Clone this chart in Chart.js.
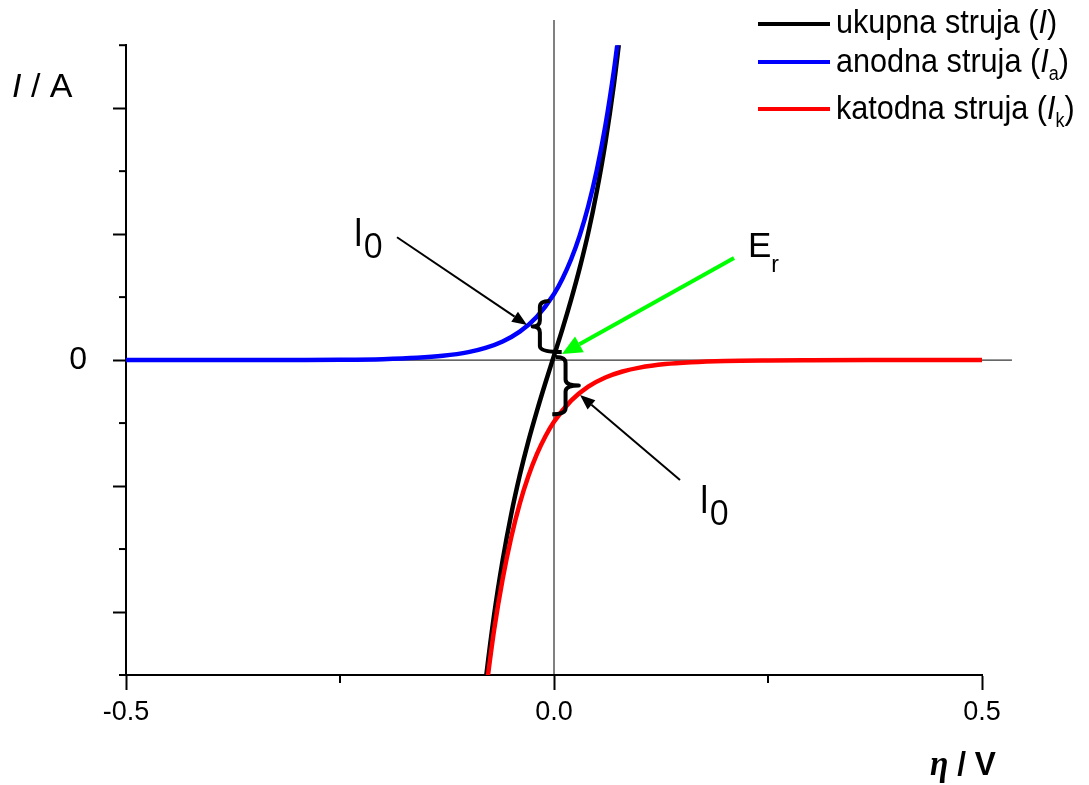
<!DOCTYPE html>
<html>
<head>
<meta charset="utf-8">
<script src="https://cdn.jsdelivr.net/npm/chart.js@4.4.1/dist/chart.umd.min.js"></script>
<style>
  html, body { margin: 0; padding: 0; background: #fff; }
  canvas { display: block; }
</style>
</head>
<body>
<canvas id="bv" width="1089" height="785"></canvas>
<script>
// overpotential (V) and current (arbitrary units)
const etaAnodic = [-0.5, -0.4, -0.3, -0.25, -0.2, -0.16, -0.13, -0.1, -0.08, -0.06, -0.04, -0.02, 0, 0.01, 0.02, 0.03, 0.04, 0.05, 0.06, 0.07, 0.076];
const iAnodic = [0, 0, 0.002, 0.005, 0.015, 0.036, 0.068, 0.127, 0.194, 0.296, 0.452, 0.689, 1.05, 1.297, 1.601, 1.977, 2.442, 3.016, 3.724, 4.599, 5.22];

const etaCathodic = [-0.08, -0.07, -0.06, -0.05, -0.04, -0.03, -0.02, -0.01, 0, 0.02, 0.04, 0.06, 0.08, 0.1, 0.13, 0.16, 0.2, 0.25, 0.3, 0.4, 0.5];
const iCathodic = [-5.3, -4.29, -3.476, -2.815, -2.279, -1.845, -1.494, -1.21, -0.98, -0.643, -0.421, -0.276, -0.181, -0.119, -0.063, -0.034, -0.014, -0.005, -0.002, 0, 0];

const etaTotal = [-0.085, -0.08, -0.07, -0.06, -0.05, -0.04, -0.03, -0.02, -0.01, 0, 0.01, 0.02, 0.03, 0.04, 0.05, 0.06, 0.07, 0.08];
const iTotal = [-5.72, -5.11, -4.05, -3.18, -2.45, -1.83, -1.29, -0.81, -0.36, 0.07, 0.5, 0.96, 1.46, 2.02, 2.68, 3.45, 4.38, 5.5];

const xTicks = [-0.5, 0, 0.5];
const yTicks = [0];

const SANS = "'Liberation Sans', Arial, sans-serif";
const NARROW = "'Liberation Sans Narrow', 'Arial Narrow', 'Open Sans', sans-serif";

function pts(xs, ys) {
    return xs.map((x, i) => ({x: x, y: ys[i]}));
}

function curve(label, color, xs, ys) {
    return {
        label: label,
        data: pts(xs, ys),
        borderColor: color,
        borderWidth: 4.5,
        pointRadius: 0,
        fill: false,
        cubicInterpolationMode: 'monotone'
    };
}

// write a row of text pieces, each with its own font and vertical shift;
// sq squeezes the row horizontally
function runs(ctx, x, y, parts, sq) {
    sq = sq || 1;
    parts.forEach(p => {
        ctx.font = p.font;
        ctx.save();
        ctx.translate(x, y + (p.dy || 0));
        ctx.scale(sq, 1);
        ctx.fillText(p.text, 0, 0);
        ctx.restore();
        x += ctx.measureText(p.text).width * sq;
    });
}

function arrow(ctx, x1, y1, x2, y2, color, lw, hl, hw) {
    const a = Math.atan2(y2 - y1, x2 - x1);
    const bx = x2 - hl * Math.cos(a), by = y2 - hl * Math.sin(a);
    ctx.strokeStyle = color;
    ctx.fillStyle = color;
    ctx.lineWidth = lw;
    ctx.beginPath();
    ctx.moveTo(x1, y1);
    ctx.lineTo(bx, by);
    ctx.stroke();
    ctx.beginPath();
    ctx.moveTo(x2, y2);
    ctx.lineTo(bx + hw * Math.sin(a), by - hw * Math.cos(a));
    ctx.lineTo(bx - hw * Math.sin(a), by + hw * Math.cos(a));
    ctx.closePath();
    ctx.fill();
}

// curly brace: ends at (x0,top) and (x1,bot), spine at xs, point at xp
function brace(ctx, x0, top, x1, bot, xs, xp) {
    const mid = (top + bot) / 2;
    const r = 6;
    ctx.strokeStyle = '#000';
    ctx.lineWidth = 4;
    ctx.lineJoin = 'round';
    ctx.beginPath();
    ctx.moveTo(x0, top);
    ctx.quadraticCurveTo(xs, top, xs, top + r);
    ctx.lineTo(xs, mid - r);
    ctx.quadraticCurveTo(xs, mid, xp, mid);
    ctx.quadraticCurveTo(xs, mid, xs, mid + r);
    ctx.lineTo(xs, bot - r);
    ctx.quadraticCurveTo(xs, bot, x1, bot);
    ctx.stroke();
}

const decor = {
    id: 'decor',
    afterDraw(chart) {
        const ctx = chart.ctx;
        const sx = chart.scales.x, sy = chart.scales.y;
        const X = v => sx.getPixelForValue(v);
        const Y = v => sy.getPixelForValue(v);
        ctx.save();

        // minor ticks
        ctx.strokeStyle = '#000';
        ctx.lineWidth = 2;
        [-5, -3, -1, 1, 3, 5].forEach(v => {
            ctx.beginPath();
            ctx.moveTo(sx.left - 7, Y(v));
            ctx.lineTo(sx.left, Y(v));
            ctx.stroke();
        });
        [-0.25, 0.25].forEach(v => {
            ctx.beginPath();
            ctx.moveTo(X(v), sy.bottom);
            ctx.lineTo(X(v), sy.bottom + 8);
            ctx.stroke();
        });

        // exchange current braces and arrows
        brace(ctx, X(-0.005), Y(0.94), X(0.009), Y(0.13), X(-0.0165), X(-0.025));
        brace(ctx, X(0.002), Y(0.05), X(-0.002), Y(-0.86), X(0.0135), X(0.029));
        arrow(ctx, X(-0.1834), Y(1.95), X(-0.0315), Y(0.556), '#000', 2, 15, 6);
        arrow(ctx, X(0.1472), Y(-1.905), X(0.0304), Y(-0.556), '#000', 2, 15, 6);
        arrow(ctx, X(0.2103), Y(1.62), X(0.0093), Y(0.095), '#00ff00', 4, 20, 9);

        ctx.fillStyle = '#000';
        ctx.textBaseline = 'alphabetic';
        ctx.textAlign = 'left';
        runs(ctx, X(-0.2348), Y(1.81), [
            {text: 'I', font: '38px ' + NARROW},
            {text: '0', font: '34px ' + NARROW, dy: 12}
        ]);
        runs(ctx, X(0.1694), Y(-2.43), [
            {text: 'I', font: '38px ' + NARROW},
            {text: '0', font: '34px ' + NARROW, dy: 12}
        ]);
        runs(ctx, X(0.2266), Y(1.635), [
            {text: 'E', font: '35px ' + SANS},
            {text: 'r', font: '23px ' + SANS, dy: 15}
        ]);

        // axis titles
        runs(ctx, 12, 97, [
            {text: 'I', font: 'italic 34px ' + SANS},
            {text: ' / A', font: '34px ' + SANS}
        ]);
        runs(ctx, 930, 775, [
            {text: 'η', font: "italic bold 36px 'Liberation Serif', serif"},
            {text: ' / V', font: 'bold 34px ' + SANS}
        ], 0.93);

        // legend
        const rows = [
            {y: 24, base: 33, color: '#000', sub: null, name: 'ukupna struja ('},
            {y: 62, base: 72, color: '#0000ff', sub: 'a', name: 'anodna struja ('},
            {y: 109, base: 119, color: '#ff0000', sub: 'k', name: 'katodna struja ('}
        ];
        rows.forEach(r => {
            ctx.strokeStyle = r.color;
            ctx.lineWidth = 4;
            ctx.beginPath();
            ctx.moveTo(758, r.y);
            ctx.lineTo(830, r.y);
            ctx.stroke();
            const parts = [
                {text: r.name, font: '34px ' + SANS},
                {text: 'I', font: 'italic 34px ' + SANS}
            ];
            if (r.sub) parts.push({text: r.sub, font: '20px ' + SANS, dy: 8});
            parts.push({text: ')', font: '34px ' + SANS});
            runs(ctx, 836, r.base, parts, 0.9);
        });
        ctx.restore();
    }
};

new Chart(document.getElementById('bv'), {
    type: 'line',
    data: {
        datasets: [
            curve('katodna struja', '#ff0000', etaCathodic, iCathodic),
            curve('anodna struja', '#0000ff', etaAnodic, iAnodic),
            curve('ukupna struja', '#000000', etaTotal, iTotal),
            {data: [{x: -0.5, y: 0}, {x: 0.535, y: 0}], borderColor: '#000', borderWidth: 1, pointRadius: 0, clip: false},
            {data: [{x: 0, y: -5}, {x: 0, y: 5.4}], borderColor: '#000', borderWidth: 1, pointRadius: 0, clip: false}
        ]
    },
    options: {
        responsive: false,
        animation: false,
        devicePixelRatio: 1,
        layout: {padding: {top: 45, right: 107, left: 0, bottom: 0}},
        plugins: {legend: {display: false}, tooltip: {enabled: false}},
        scales: {
            x: {
                type: 'linear',
                min: -0.5,
                max: 0.5,
                afterFit: s => { s.height = 110; },
                border: {color: '#000', width: 2},
                grid: {
                    drawOnChartArea: false,
                    tickLength: 15,
                    tickWidth: 2,
                    tickColor: c => xTicks.some(t => Math.abs(t - c.tick.value) < 1e-9) ? '#000' : 'rgba(0,0,0,0)'
                },
                ticks: {
                    stepSize: 0.25,
                    autoSkip: false,
                    maxRotation: 0,
                    padding: 6,
                    color: '#000',
                    font: {family: SANS, size: 27},
                    callback: v => xTicks.some(t => Math.abs(t - v) < 1e-9) ? v.toFixed(1) : ''
                }
            },
            y: {
                type: 'linear',
                min: -5,
                max: 5,
                afterFit: s => { s.width = 126; },
                border: {color: '#000', width: 2},
                grid: {
                    drawOnChartArea: false,
                    tickLength: 13,
                    tickWidth: 2,
                    tickColor: c => (c.tick.value % 2 === 0 && Math.abs(c.tick.value) < 5) ? '#000' : 'rgba(0,0,0,0)'
                },
                ticks: {
                    stepSize: 1,
                    autoSkip: false,
                    padding: 26,
                    color: '#000',
                    font: {family: SANS, size: 32},
                    callback: v => yTicks.includes(v) ? String(v) : ''
                }
            }
        }
    },
    plugins: [decor]
});
</script>
</body>
</html>
